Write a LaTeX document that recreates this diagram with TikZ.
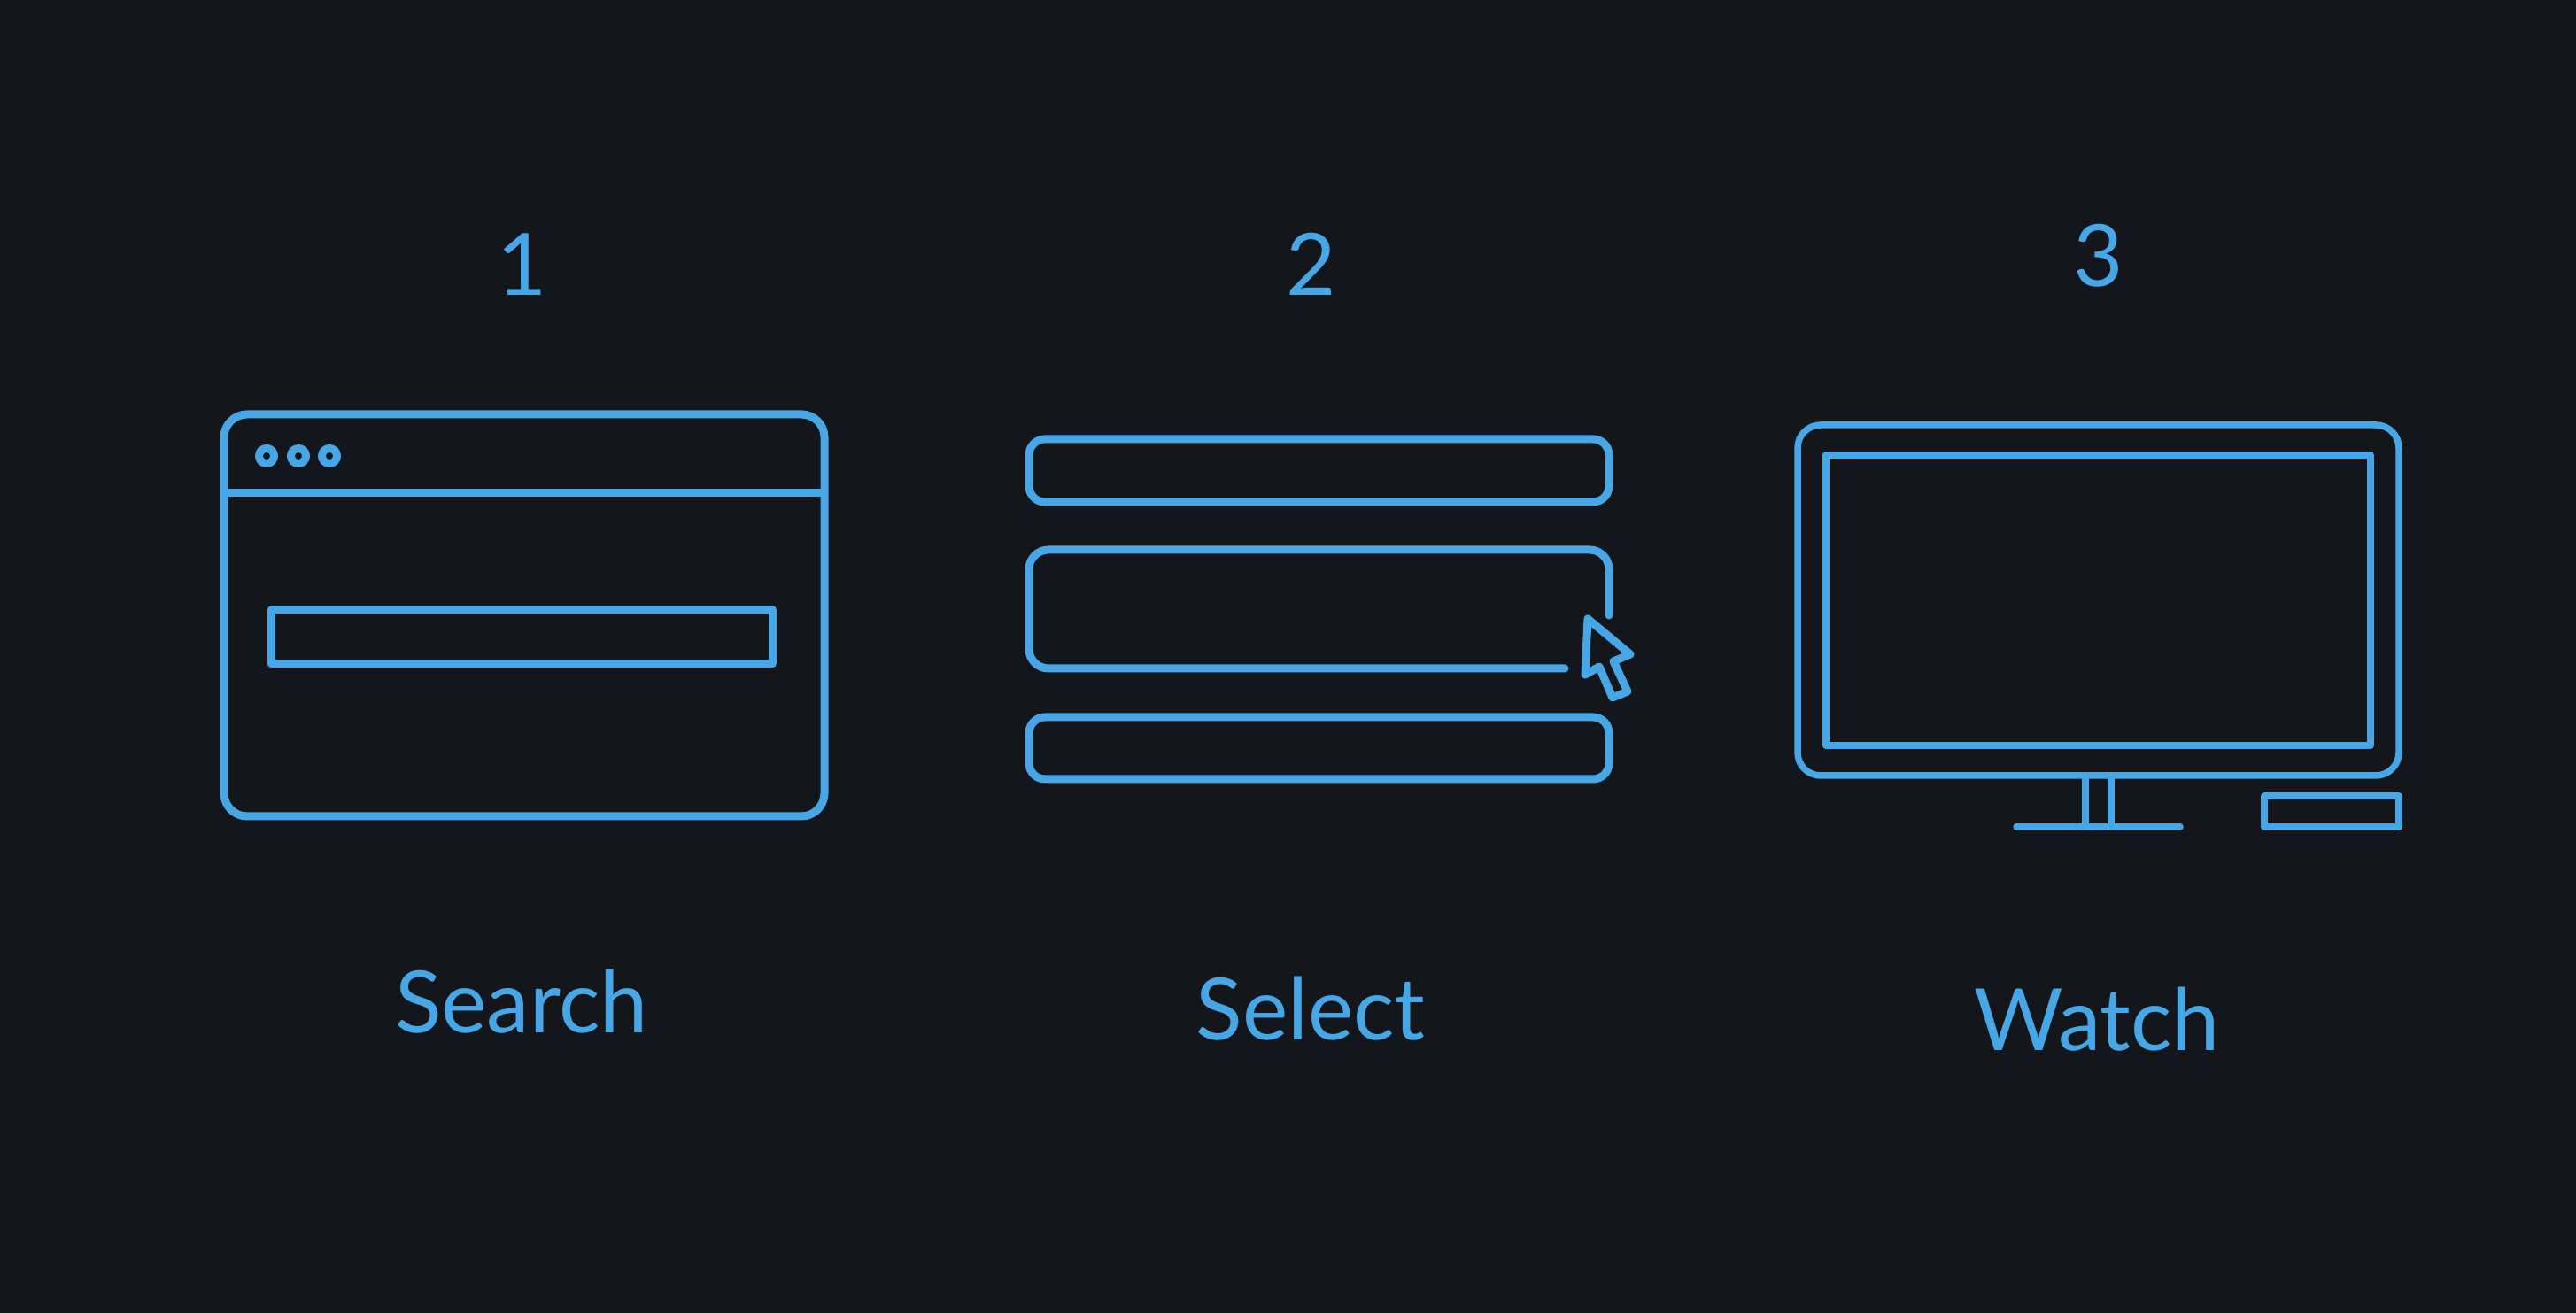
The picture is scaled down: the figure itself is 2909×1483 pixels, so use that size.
\documentclass[tikz,border=0pt]{standalone}
\usepackage{fontspec}
\setmainfont{Lato}
\definecolor{bgdark}{RGB}{19,23,27}
\definecolor{skyline}{RGB}{70,166,230}
\tikzset{
  icon/.style={draw=skyline, line width=.09cm, line join=round},
  thin icon/.style={draw=skyline, line width=.075cm, line join=round},
  number/.style={text=skyline, font=\fontsize{27.6}{30}\selectfont, anchor=base, inner sep=0pt},
  caption/.style={text=skyline, font=\fontsize{27.6}{30}\selectfont, anchor=base, inner sep=0pt}
}
\begin{document}
\begin{tikzpicture}[x=.01cm, y=-.01cm]

        \fill[bgdark] (0,0) rectangle (2909,1483);
        \useasboundingbox (0,0) rectangle (2909,1483);

        % numbers and captions
        \node[number]  (n1)     at (590,334)   {1};
        \node[number]  (n2)     at (1481,334)  {2};
        \node[number]  (n3)     at (2370,324)  {3};
        \node[caption] (search) at (589,1166)  {Search};
        \node[caption] (select) at (1480,1175) {Select};
        \node[caption] (watch)  at (2368,1187) {Watch};

        % browser window
        \draw[icon, rounded corners=.26cm] (253,468) rectangle (931,922);
        \draw[icon] (253,557) -- (931,557);
        \draw[icon] (306,689) rectangle (872,750);
        \foreach \x in {301,337,372}
          \draw[icon] (\x,515) circle (.085cm);

        % list of rows
        \draw[icon, rounded corners=.18cm] (1162,496) rectangle (1817,567);
        \draw[icon, rounded corners=.18cm] (1162,810) rectangle (1817,880);
        \draw[icon, rounded corners=.22cm, line cap=round]
          (1767,755) -- (1162,755) -- (1162,621) -- (1817,621) -- (1817,695);

        % cursor
        \draw[icon] (1793,699) -- (1841,739) -- (1822,747) -- (1838,781)
          -- (1821,788) -- (1806,753) -- (1790,762) -- cycle;

        % monitor
        \draw[thin icon, rounded corners=.26cm] (2030,480) rectangle (2709,876);
        \draw[thin icon] (2062,514) rectangle (2677,842);
        \draw[thin icon] (2355,876) -- (2355,934);
        \draw[thin icon] (2384,876) -- (2384,934);
        \draw[thin icon, line cap=round] (2277,934) -- (2462,934);
        \draw[thin icon] (2557,899) rectangle (2709,934);

\end{tikzpicture}
\end{document}
